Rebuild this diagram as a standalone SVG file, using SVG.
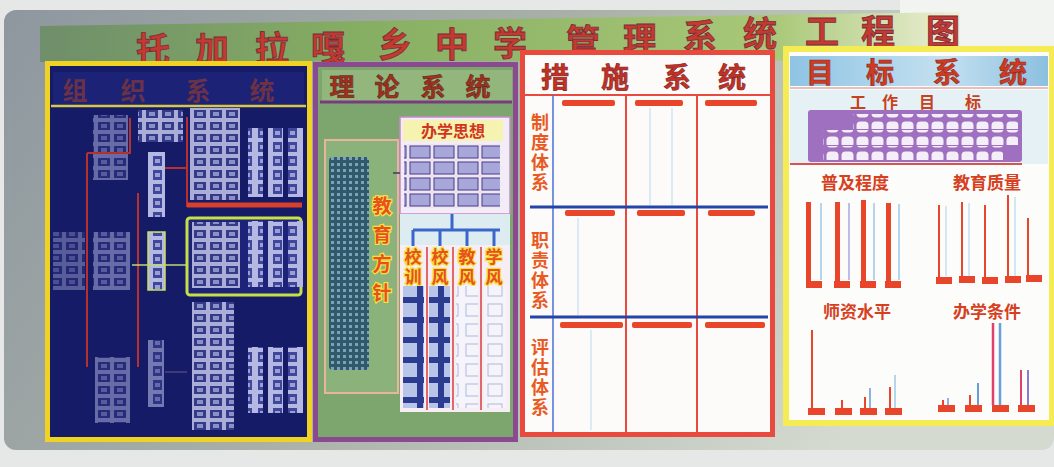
<svg xmlns="http://www.w3.org/2000/svg" width="1054" height="467" viewBox="0 0 1054 467">
<defs>
<linearGradient id="board" x1="0" y1="0" x2="1" y2="0.3">
<stop offset="0" stop-color="#8e979f"/><stop offset="0.5" stop-color="#a8b0a8"/><stop offset="1" stop-color="#d4dad0"/>
</linearGradient>
<linearGradient id="strip" x1="0" y1="0" x2="1" y2="0">
<stop offset="0" stop-color="#6f8e6a"/><stop offset="0.35" stop-color="#86ae62"/><stop offset="0.8" stop-color="#a9c878"/><stop offset="1" stop-color="#eef0d8"/>
</linearGradient>
<linearGradient id="blueband" x1="0" y1="0" x2="1" y2="0">
<stop offset="0" stop-color="#8fc4e4"/><stop offset="0.6" stop-color="#c4e0f0"/><stop offset="1" stop-color="#8cc0e0"/>
</linearGradient>
<pattern id="p1cells" width="16" height="12" patternUnits="userSpaceOnUse">
<rect width="16" height="12" fill="#a9add8"/><rect x="2" y="2" width="12" height="8" fill="#353b88"/><rect x="5" y="4" width="6" height="4" fill="#8b90c8"/>
</pattern>
<pattern id="p1vert" width="15" height="14" patternUnits="userSpaceOnUse">
<rect width="15" height="14" fill="#b4b8e2"/><rect x="3" y="2" width="9" height="10" fill="#40469a"/><rect x="5" y="5" width="5" height="4" fill="#9a9fd4"/>
</pattern>
<pattern id="pdots" width="6" height="6" patternUnits="userSpaceOnUse">
<rect width="6" height="6" fill="#2f5a68"/><rect x="1" y="1" width="3" height="3" fill="#7f9fc0"/>
</pattern>
<pattern id="pgrid2" width="24" height="16" patternUnits="userSpaceOnUse">
<rect width="24" height="16" fill="#ece6f4"/><rect x="2" y="2" width="20" height="12" fill="#a8a8d8" stroke="#4a3a8a" stroke-width="1"/>
</pattern>
<pattern id="pcolD" width="21" height="20" patternUnits="userSpaceOnUse">
<rect width="21" height="20" fill="#2c3c90"/><rect x="3" y="3" width="15" height="14" fill="#b8c4e8"/>
</pattern>
<pattern id="pcolL" width="22" height="20" patternUnits="userSpaceOnUse">
<rect width="22" height="20" fill="#f4f4fa"/><rect x="4" y="4" width="14" height="12" fill="none" stroke="#b0b8dc" stroke-width="1"/>
</pattern>
<pattern id="pwhite" width="15" height="15" patternUnits="userSpaceOnUse">
<rect width="15" height="15" fill="#a070c0"/><rect x="1.5" y="1.5" width="12" height="11" rx="4" fill="#f4eef8"/>
</pattern>
<style>
.cjk{font-family:"Noto Sans CJK SC","Noto Sans CJK TC",sans-serif;font-weight:bold;text-anchor:middle}
.vt{writing-mode:vertical-rl}
.title{font-size:34px;fill:#c43a2c;stroke:#7a2a40;stroke-width:0.8}
.lab{font-size:19px;letter-spacing:10px;fill:#e8501e;stroke:#f4e040;stroke-width:2.5;paint-order:stroke}
.clab{font-size:17px;letter-spacing:3px;fill:#e8501e;stroke:#f4e040;stroke-width:2.5;paint-order:stroke}
.mlab{font-size:18px;letter-spacing:2px;fill:#e85a22}
.glab{font-size:17px;fill:#d6401e}
.ptitle1{font-size:25px;fill:#6a3248}
.ptitle2{font-size:25px;fill:#a2301e;stroke:#5a2a20;stroke-width:0.6}
.ptitle3{font-size:28px;fill:#c23028;stroke:#7a2a20;stroke-width:0.6}
.ptitle4{font-size:28px;fill:#d23a20;stroke:#8a2a20;stroke-width:0.6}
.red{stroke:#b8302a;fill:none}
.rbar{fill:#e8452a}
.blue{stroke:#3a66cc;fill:none}
</style>
</defs>

<rect width="1054" height="467" fill="#e6e8e8"/>
<rect x="4" y="10" width="1050" height="440" rx="12" fill="url(#board)"/>
<rect x="900" y="0" width="154" height="50" fill="#f2f4f2"/>
<polygon points="40,26 960,12 960,60 40,62" fill="url(#strip)"/>

<g id="title">
<text class="cjk title" x="153" y="62">托</text>
<text class="cjk title" x="212" y="62">加</text>
<text class="cjk title" x="272" y="61">拉</text>
<text class="cjk title" x="328" y="60">嘎</text>
<text class="cjk title" x="395" y="57">乡</text>
<text class="cjk title" x="452" y="57">中</text>
<text class="cjk title" x="510" y="56">学</text>
<text class="cjk title" x="583" y="54">管</text>
<text class="cjk title" x="640" y="52">理</text>
<text class="cjk title" x="700" y="49">系</text>
<text class="cjk title" x="760" y="46">统</text>
<text class="cjk title" x="822" y="44">工</text>
<text class="cjk title" x="878" y="44">程</text>
<text class="cjk title" x="943" y="44">图</text>
</g>

<g id="panel-organization">
<rect x="45" y="61" width="267" height="381" fill="#f0d222"/>
<rect x="50" y="66" width="257" height="371" fill="#161b68"/>
<rect x="53" y="72" width="251" height="33" fill="#1c2276"/>
<line x1="51" y1="106" x2="306" y2="106" stroke="#d8c848" stroke-width="2.5"/>
<text class="cjk ptitle1" x="75" y="100">组</text>
<text class="cjk ptitle1" x="133" y="100">织</text>
<text class="cjk ptitle1" x="198" y="100">系</text>
<text class="cjk ptitle1" x="262" y="100">统</text>
<rect x="93" y="115" width="35" height="65" fill="url(#p1cells)" opacity="0.55"/>
<rect x="138" y="110" width="45" height="32" fill="url(#p1cells)"/>
<rect x="148" y="152" width="17" height="65" fill="url(#p1vert)"/>
<rect x="190" y="108" width="50" height="92" fill="url(#p1cells)"/>
<rect x="248" y="128" width="15" height="69" fill="url(#p1vert)"/>
<rect x="268" y="128" width="15" height="69" fill="url(#p1vert)"/>
<rect x="288" y="128" width="15" height="69" fill="url(#p1vert)"/>
<rect x="53" y="232" width="32" height="58" fill="url(#p1cells)" opacity="0.45"/>
<rect x="93" y="232" width="37" height="58" fill="url(#p1cells)" opacity="0.55"/>
<rect x="148" y="232" width="17" height="58" fill="url(#p1vert)" stroke="#c8e060" stroke-width="1.5"/>
<rect x="187" y="218" width="114" height="77" rx="3" fill="#1c2378" stroke="#c8e048" stroke-width="3"/>
<rect x="192" y="222" width="48" height="66" fill="url(#p1cells)"/>
<rect x="248" y="221" width="15" height="66" fill="url(#p1vert)"/>
<rect x="268" y="221" width="15" height="66" fill="url(#p1vert)"/>
<rect x="288" y="221" width="15" height="66" fill="url(#p1vert)"/>
<rect x="192" y="302" width="42" height="128" fill="url(#p1cells)"/>
<rect x="248" y="347" width="15" height="66" fill="url(#p1vert)"/>
<rect x="268" y="347" width="15" height="66" fill="url(#p1vert)"/>
<rect x="288" y="347" width="15" height="66" fill="url(#p1vert)"/>
<rect x="95" y="357" width="35" height="66" fill="url(#p1cells)" opacity="0.55"/>
<rect x="148" y="340" width="16" height="67" fill="url(#p1vert)" opacity="0.6"/>
</g>

<g id="panel-theory">
<rect x="313" y="62" width="205" height="380" fill="#8a4a90"/>
<rect x="318" y="67" width="195" height="370" fill="#7ca66e"/>
<rect x="322" y="70" width="190" height="31" fill="#92b67c"/>
<line x1="320" y1="102" x2="512" y2="102" stroke="#7a3a82" stroke-width="3"/>
<text class="cjk ptitle2" x="342" y="96">理</text>
<text class="cjk ptitle2" x="387" y="96">论</text>
<text class="cjk ptitle2" x="433" y="96">系</text>
<text class="cjk ptitle2" x="478" y="96">统</text>
<rect x="325" y="140" width="73" height="253" fill="#8ab27a" stroke="#e8b4a0" stroke-width="2"/>
<rect x="329" y="157" width="40" height="213" rx="4" fill="url(#pdots)"/>
<text class="cjk vt lab" x="382" y="254">教育方针</text>
<rect x="400" y="117" width="110" height="97" fill="#f2ecf6" stroke="#c888c8" stroke-width="1.5"/>
<rect x="403" y="120" width="100" height="21" fill="#f6f2b0"/>
<text class="cjk" x="453" y="137" font-size="16" fill="#d23420">办学思想</text>
<rect x="404" y="144" width="96" height="64" fill="url(#pgrid2)"/>
<rect x="400" y="214" width="110" height="31" fill="#dcecf0"/>
<rect x="400" y="245" width="110" height="167" fill="#f6eef4"/>
<text class="cjk vt clab" x="413" y="268">校训</text>
<text class="cjk vt clab" x="440" y="268">校风</text>
<text class="cjk vt clab" x="467" y="268">教风</text>
<text class="cjk vt clab" x="494" y="268">学风</text>
<rect x="403" y="286" width="21" height="122" fill="url(#pcolD)"/>
<rect x="429" y="286" width="21" height="122" fill="url(#pcolD)"/>
<rect x="456" y="286" width="22" height="122" fill="url(#pcolL)"/>
<rect x="484" y="286" width="22" height="122" fill="url(#pcolL)"/>
</g>

<g id="panel-measures">
<rect x="520" y="50" width="255" height="387" fill="#ea4a3e"/>
<rect x="525" y="55" width="245" height="377" fill="#fdfafa"/>
<text class="cjk ptitle3" x="555" y="88">措</text>
<text class="cjk ptitle3" x="615" y="88">施</text>
<text class="cjk ptitle3" x="677" y="88">系</text>
<text class="cjk ptitle3" x="732" y="88">统</text>
<text class="cjk vt mlab" x="540" y="153">制度体系</text>
<text class="cjk vt mlab" x="540" y="271">职责体系</text>
<text class="cjk vt mlab" x="540" y="378">评估体系</text>
<rect class="rbar" x="562" y="100" width="53" height="6" rx="2"/>
<rect class="rbar" x="635" y="100" width="48" height="6" rx="2"/>
<rect class="rbar" x="705" y="100" width="52" height="6" rx="2"/>
<rect class="rbar" x="565" y="210" width="50" height="6" rx="2"/>
<rect class="rbar" x="637" y="210" width="48" height="6" rx="2"/>
<rect class="rbar" x="708" y="210" width="47" height="6" rx="2"/>
<rect class="rbar" x="560" y="322" width="63" height="6" rx="2"/>
<rect class="rbar" x="632" y="322" width="60" height="6" rx="2"/>
<rect class="rbar" x="705" y="322" width="60" height="6" rx="2"/>
</g>

<g id="panel-goals">
<rect x="783" y="46" width="271" height="380" fill="#f4ec52"/>
<rect x="789" y="52" width="260" height="368" fill="#fcfcfa"/>
<rect x="790" y="56" width="258" height="30" fill="url(#blueband)"/>
<text class="cjk ptitle4" x="820" y="83">目</text>
<text class="cjk ptitle4" x="880" y="83">标</text>
<text class="cjk ptitle4" x="947" y="83">系</text>
<text class="cjk ptitle4" x="1013" y="83">统</text>
<line x1="790" y1="88" x2="1048" y2="88" stroke="#e0a8a8" stroke-width="1.5"/>
<rect x="790" y="90" width="258" height="74" fill="#e6f1f5"/>
<text class="cjk" x="858" y="108" font-size="16" fill="#c84020">工</text>
<text class="cjk" x="890" y="108" font-size="16" fill="#c84020">作</text>
<text class="cjk" x="927" y="108" font-size="16" fill="#c84020">目</text>
<text class="cjk" x="973" y="108" font-size="16" fill="#c84020">标</text>
<rect x="808" y="110" width="214" height="52" rx="3" fill="#a070c0"/>
<rect x="853" y="114" width="165" height="15" fill="url(#pwhite)"/>
<rect x="823" y="130" width="195" height="15" fill="url(#pwhite)"/>
<rect x="823" y="146" width="180" height="14" fill="url(#pwhite)"/>
<line x1="790" y1="164" x2="1022" y2="164" stroke="#e05050" stroke-width="2"/>
<text class="cjk glab" x="855" y="189">普及程度</text>
<text class="cjk glab" x="987" y="189">教育质量</text>
<text class="cjk glab" x="857" y="318">师资水平</text>
<text class="cjk glab" x="987" y="318">办学条件</text>
<g id="bars-popularity">
<rect class="rbar" x="806" y="202" width="5" height="80"/><rect class="rbar" x="835" y="202" width="5" height="80"/><rect class="rbar" x="861" y="200" width="5" height="82"/><rect class="rbar" x="886" y="203" width="5" height="79"/>
<line x1="821" y1="203" x2="821" y2="280" stroke="#9ec8e8" stroke-width="1.5"/><line x1="849" y1="203" x2="849" y2="280" stroke="#a8a8e0" stroke-width="1.5"/><line x1="874" y1="203" x2="874" y2="280" stroke="#9ec8e8" stroke-width="1.5"/><line x1="899" y1="204" x2="899" y2="280" stroke="#9ec8e8" stroke-width="1.5"/>
<rect class="rbar" x="806" y="281" width="16" height="7"/><rect class="rbar" x="834" y="281" width="16" height="7"/><rect class="rbar" x="860" y="281" width="16" height="7"/><rect class="rbar" x="885" y="281" width="16" height="7"/>
</g>
<g id="bars-quality">
<line x1="939" y1="205" x2="939" y2="277" stroke="#e8452a" stroke-width="2"/><line x1="962" y1="202" x2="962" y2="277" stroke="#e8452a" stroke-width="2"/><line x1="985" y1="205" x2="985" y2="277" stroke="#e8452a" stroke-width="2"/><line x1="1008" y1="195" x2="1008" y2="277" stroke="#e8452a" stroke-width="2"/><line x1="1028" y1="218" x2="1028" y2="277" stroke="#e8452a" stroke-width="2"/>
<line x1="946" y1="206" x2="946" y2="276" stroke="#a8d0ec" stroke-width="1"/><line x1="969" y1="203" x2="969" y2="276" stroke="#a8d0ec" stroke-width="1"/><line x1="1015" y1="197" x2="1015" y2="276" stroke="#a8d0ec" stroke-width="1"/>
<rect class="rbar" x="936" y="277" width="16" height="7"/><rect class="rbar" x="959" y="276" width="16" height="7"/><rect class="rbar" x="982" y="277" width="16" height="7"/><rect class="rbar" x="1005" y="276" width="16" height="7"/><rect class="rbar" x="1026" y="275" width="16" height="7"/>
</g>
<g id="bars-teachers">
<line x1="812" y1="330" x2="812" y2="408" stroke="#e8452a" stroke-width="2"/><line x1="842" y1="400" x2="842" y2="408" stroke="#e8452a" stroke-width="2"/><line x1="865" y1="397" x2="865" y2="408" stroke="#e8452a" stroke-width="2"/><line x1="870" y1="388" x2="870" y2="408" stroke="#6a9ad8" stroke-width="1.5"/><line x1="890" y1="387" x2="890" y2="408" stroke="#e8452a" stroke-width="2"/><line x1="895" y1="375" x2="895" y2="408" stroke="#9ec8e8" stroke-width="1.5"/>
<rect class="rbar" x="808" y="408" width="17" height="7"/><rect class="rbar" x="835" y="408" width="17" height="7"/><rect class="rbar" x="860" y="408" width="17" height="7"/><rect class="rbar" x="885" y="408" width="17" height="7"/>
</g>
<g id="bars-conditions">
<line x1="943" y1="400" x2="943" y2="405" stroke="#e8452a" stroke-width="2"/><line x1="948" y1="398" x2="948" y2="405" stroke="#6a9ad8" stroke-width="1.5"/><line x1="970" y1="395" x2="970" y2="405" stroke="#e8452a" stroke-width="2"/><line x1="978" y1="383" x2="978" y2="405" stroke="#6a9ad8" stroke-width="2"/><line x1="993" y1="323" x2="993" y2="405" stroke="#e0406a" stroke-width="2.5"/><line x1="1000" y1="323" x2="1000" y2="405" stroke="#6aa0d8" stroke-width="2.5"/><line x1="1021" y1="370" x2="1021" y2="405" stroke="#e0406a" stroke-width="2"/><line x1="1028" y1="370" x2="1028" y2="405" stroke="#8a7ad0" stroke-width="2"/>
<rect class="rbar" x="938" y="405" width="17" height="7"/><rect class="rbar" x="965" y="405" width="17" height="7"/><rect class="rbar" x="992" y="405" width="17" height="7"/><rect class="rbar" x="1018" y="405" width="17" height="7"/>
</g>
</g>

<g id="connectors">
<path class="red" stroke-width="2" d="M87 153 V367 M87 153 H130 V118 M138 193 V367 M165 168 H187 M187 117 V207"/>
<line x1="187" y1="205" x2="302" y2="205" stroke="#d8402a" stroke-width="5"/>
<line x1="132" y1="265" x2="187" y2="265" stroke="#c0d870" stroke-width="1.5"/>
<line x1="165" y1="372" x2="187" y2="372" stroke="#6a5a8a" stroke-width="1"/>
<line x1="393" y1="173" x2="400" y2="173" stroke="#3a3a60" stroke-width="1.5"/>
<path class="blue" stroke-width="3" d="M452 214 V230 M413 230 H500 M413 230 V246 M440 230 V246 M467 230 V246 M494 230 V246"/>
<path stroke="#e06868" stroke-width="2" fill="none" d="M427 247 V410 M453 247 V410 M481 247 V410"/>
<line x1="525" y1="95" x2="770" y2="95" stroke="#ea4a3e" stroke-width="2"/>
<line x1="553" y1="95" x2="553" y2="432" stroke="#4a70d0" stroke-width="1.5"/>
<path stroke="#ea4a3e" stroke-width="2" fill="none" d="M626 95 V432 M697 95 V432"/>
<path stroke="#2444a8" stroke-width="3" fill="none" d="M530 207 H768 M530 317 H768"/>
<path stroke="#b8dcec" stroke-width="1" fill="none" d="M650 108 V205 M672 108 V205 M578 218 V315 M591 330 V430"/>
</g>
</svg>
